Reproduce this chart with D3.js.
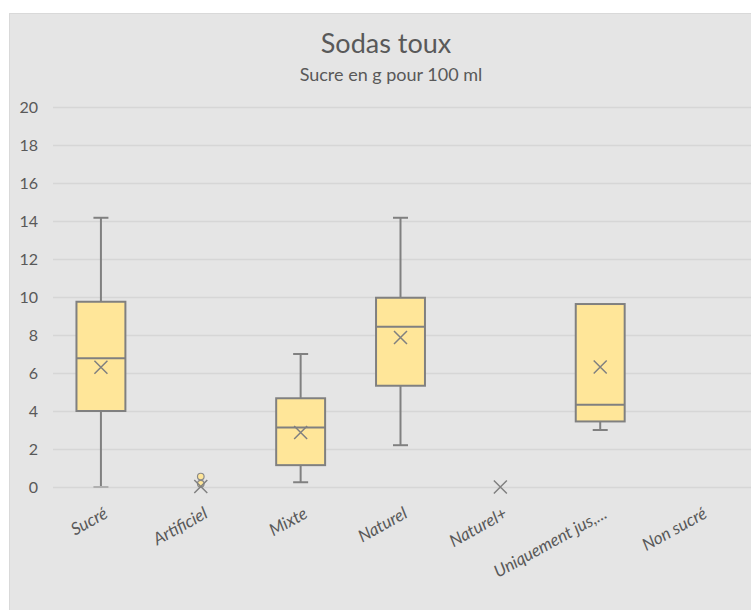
<!DOCTYPE html>
<html>
<head>
<meta charset="utf-8">
<script src="https://cdn.jsdelivr.net/npm/d3@7"></script>
<style>
  html, body { margin: 0; padding: 0; background: #ffffff; }
  svg { display: block; }
  text { font-family: Lato, "Open Sans", sans-serif; fill: #595959; }
</style>
</head>
<body>
<svg id="chart" width="751" height="610"></svg>
<script>
// Sugar content (g per 100 ml) by sweetener type
const categories = ["Sucré", "Artificiel", "Mixte", "Naturel", "Naturel+", "Uniquement jus,...", "Non sucré"];
const whiskerLow  = [0,     0,    0.25, 2.2,  0, 3.0,  null];
const quartile1   = [4.0,   0,    1.15, 5.33, 0, 3.45, null];
const medians     = [6.77,  0,    3.13, 8.43, 0, 4.33, null];
const quartile3   = [9.75,  0,    4.67, 9.96, 0, 9.63, null];
const whiskerHigh = [14.17, 0,    7.0,  14.17, 0, 9.63, null];
const means       = [6.3,   0.03, 2.87, 7.87, 0, 6.32, null];
const outlierCats = ["Artificiel", "Artificiel"];
const outlierVals = [0.55, 0.17];
const yTicks = [0, 2, 4, 6, 8, 10, 12, 14, 16, 18, 20];

const svg = d3.select("#chart");
const W = 751, H = 610;

// chart area panel
svg.append("rect")
  .attr("x", 9.5).attr("y", 13.5)
  .attr("width", W).attr("height", H)
  .attr("fill", "#e5e5e5").attr("stroke", "#d9d9d9").attr("stroke-width", 1);

const x = d3.scaleBand().domain(categories).range([51, 750]);
const y = d3.scaleLinear().domain([0, 20]).range([487, 107]);

// horizontal gridlines
svg.append("g").selectAll("line").data(yTicks).join("line")
  .attr("x1", 53).attr("x2", W)
  .attr("y1", d => Math.round(y(d)) + 0.5).attr("y2", d => Math.round(y(d)) + 0.5)
  .attr("stroke", "#d6d6d6").attr("stroke-width", 1.3);

// y axis labels
const yAxis = d3.axisLeft(y).tickValues(yTicks).tickSize(0).tickPadding(0);
const gy = svg.append("g").attr("transform", "translate(38,0)").call(yAxis);
gy.select(".domain").remove();
gy.selectAll("text").attr("font-size", 16).attr("fill", "#595959")
  .style("font-family", "Lato, 'Open Sans', sans-serif");

// titles
svg.append("text").attr("x", 386).attr("y", 53).attr("text-anchor", "middle")
  .attr("font-size", 27).text("Sodas toux");
svg.append("text").attr("x", 391).attr("y", 81).attr("text-anchor", "middle")
  .attr("font-size", 18).text("Sucre en g pour 100 ml");

// x axis labels, rotated
const xAxis = d3.axisBottom(x).tickSize(0).tickPadding(0);
const gx = svg.append("g").attr("transform", "translate(0,487)").call(xAxis);
gx.select(".domain").remove();
gx.selectAll("text")
  .attr("font-size", 17).attr("font-style", "italic").attr("fill", "#595959")
  .style("font-family", "Lato, 'Open Sans', sans-serif")
  .attr("text-anchor", "end")
  .attr("dy", 0)
  .attr("transform", "translate(8,30) rotate(-29)");

// box plots
const stroke = "#808080";
const boxW = x.bandwidth() * 0.49;
const capW = 15;
const rows = categories.map((c, i) => ({
  c, lo: whiskerLow[i], q1: quartile1[i], med: medians[i],
  q3: quartile3[i], hi: whiskerHigh[i], mean: means[i]
})).filter(d => d.med !== null);

const g = svg.append("g");
const cx = d => x(d.c) + x.bandwidth() / 2;

// whiskers
g.selectAll(".wh").data(rows).join("line")
  .attr("x1", cx).attr("x2", cx)
  .attr("y1", d => y(d.hi)).attr("y2", d => y(d.q3))
  .attr("stroke", stroke).attr("stroke-width", 2);
g.selectAll(".wl").data(rows).join("line")
  .attr("x1", cx).attr("x2", cx)
  .attr("y1", d => y(d.q1)).attr("y2", d => y(d.lo))
  .attr("stroke", stroke).attr("stroke-width", 2);
g.selectAll(".ch").data(rows.filter(d => d.hi > d.q3)).join("line")
  .attr("x1", d => cx(d) - capW / 2).attr("x2", d => cx(d) + capW / 2)
  .attr("y1", d => y(d.hi)).attr("y2", d => y(d.hi))
  .attr("stroke", stroke).attr("stroke-width", 2);
g.selectAll(".cl").data(rows.filter(d => d.lo < d.q1)).join("line")
  .attr("x1", d => cx(d) - capW / 2).attr("x2", d => cx(d) + capW / 2)
  .attr("y1", d => y(d.lo)).attr("y2", d => y(d.lo))
  .attr("stroke", d => d.lo === 0 ? "#b0b0b0" : stroke).attr("stroke-width", 2);

// boxes
g.selectAll(".box").data(rows).join("rect")
  .attr("x", d => cx(d) - boxW / 2).attr("width", boxW)
  .attr("y", d => y(d.q3)).attr("height", d => y(d.q1) - y(d.q3))
  .attr("fill", "#ffe699")
  .attr("stroke", d => d.q3 === d.q1 ? "#a0a0a0" : stroke).attr("stroke-width", 2);
// median lines
g.selectAll(".med").data(rows.filter(d => d.q3 > d.q1)).join("line")
  .attr("x1", d => cx(d) - boxW / 2).attr("x2", d => cx(d) + boxW / 2)
  .attr("y1", d => y(d.med)).attr("y2", d => y(d.med))
  .attr("stroke", stroke).attr("stroke-width", 2);

// outliers
const outl = outlierCats.map((c, i) => ({ c, v: outlierVals[i] }));
g.selectAll(".out").data(outl).join("circle")
  .attr("cx", cx).attr("cy", d => y(d.v)).attr("r", 3.3)
  .attr("fill", "#ffe699").attr("stroke", "#8a8a8a").attr("stroke-width", 1.2);

// mean markers
const m = 6.5;
rows.forEach(d => {
  const px = cx(d), py = y(d.mean);
  g.append("path")
    .attr("d", `M${px - m},${py - m}L${px + m},${py + m}M${px - m},${py + m}L${px + m},${py - m}`)
    .attr("stroke", stroke).attr("stroke-width", 1.5).attr("fill", "none");
});
</script>
</body>
</html>
